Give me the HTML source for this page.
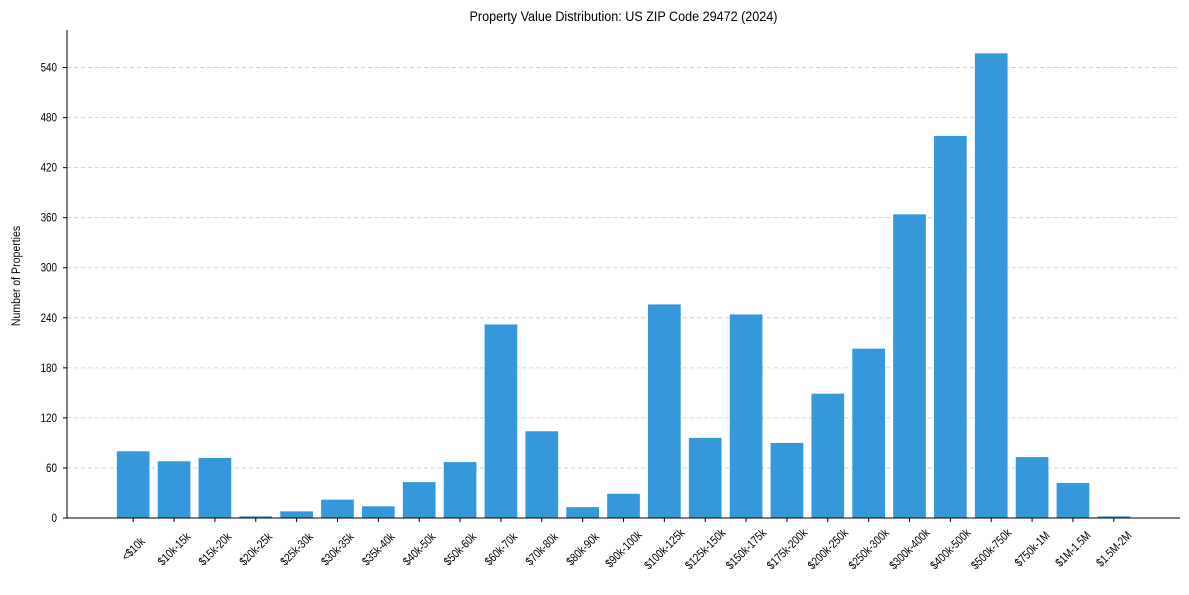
<!DOCTYPE html>
<html><head><meta charset="utf-8"><style>
body{margin:0;background:#fff;font-family:"Liberation Sans",Arial,sans-serif}
</style></head><body>
<svg id="chart" width="1189" height="590" xmlns="http://www.w3.org/2000/svg" font-family="Liberation Sans, Arial, sans-serif"></svg>
<script>
const categories=["<$10k","$10k-15k","$15k-20k","$20k-25k","$25k-30k","$30k-35k","$35k-40k","$40k-50k","$50k-60k","$60k-70k","$70k-80k","$80k-90k","$90k-100k","$100k-125k","$125k-150k","$150k-175k","$175k-200k","$200k-250k","$250k-300k","$300k-400k","$400k-500k","$500k-750k","$750k-1M","$1M-1.5M","$1.5M-2M"];
const counts=[80,68,72,2,8,22,14,43,67,232,104,13,29,256,96,244,90,149,203,364,458,557,73,42,2];
const yTicks=[0,60,120,180,240,300,360,420,480,540];
const NS="http://www.w3.org/2000/svg";
const svg=document.getElementById('chart');
const L=67,R=1180,T=30,B=518,yMax=585;
const xmin=-1.62,xmax=categories.length-1+1.62;
const x=i=>L+(i-xmin)/(xmax-xmin)*(R-L);
const y=v=>B-v/yMax*(B-T);
const step=x(1)-x(0),bw=step*0.8;
function mk(tag,attrs,txt){const e=document.createElementNS(NS,tag);for(const k in attrs)e.setAttribute(k,attrs[k]);if(txt!==undefined)e.textContent=txt;svg.appendChild(e);return e;}
yTicks.forEach(t=>{
 if(t>0){const g=mk('line',{x1:L,x2:R,y1:y(t),y2:y(t),stroke:'#c8c8c8','stroke-dasharray':'4,3','stroke-width':0.8});
 
 }
 const tk=mk('line',{x1:L-4,x2:L,y1:y(t),y2:y(t),stroke:'#000'});
 
 
 const lb=mk('text',{'text-anchor':'end','font-size':12,fill:'#000',transform:`translate(${L-10} ${y(t)+4}) scale(0.82 1)`},t);
 
 
});
categories.forEach((c,i)=>{
 const r=mk('rect',{x:x(i)-bw/2,y:y(counts[i]),width:bw,height:B-y(counts[i]),fill:'#3498db'});
 
 
 const tk=mk('line',{x1:x(i),x2:x(i),y1:B,y2:B+4,stroke:'#000'});
 
 
 const lb=mk('text',{x:0,y:4,'text-anchor':'middle','font-size':12,fill:'#000',transform:`translate(${x(i)} ${B+31}) rotate(-45) scale(0.82 1)`},c);
 
 
});
const ax1=mk('line',{x1:L,x2:L,y1:T,y2:B,stroke:'#000'});


const ax2=mk('line',{x1:L,x2:R,y1:B,y2:B,stroke:'#000'});


const ttl=mk('text',{'text-anchor':'middle','font-size':14,fill:'#000',transform:`translate(${(L+R)/2} 21) scale(0.9 1)`},'Property Value Distribution: US ZIP Code 29472 (2024)');


const yt=mk('text',{'text-anchor':'middle','font-size':12,fill:'#000',transform:'translate(20 276) rotate(-90) scale(0.88 1)'},'Number of Properties');


</script>
</body></html>
